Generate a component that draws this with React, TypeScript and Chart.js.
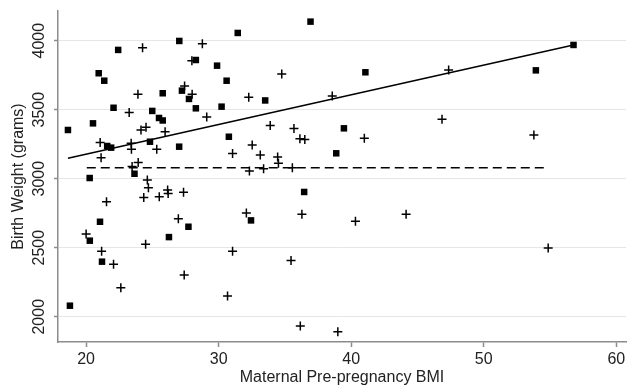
import React, { useEffect, useRef } from "react";
import { Chart, registerables } from "chart.js";

Chart.register(...registerables);

// ---- data ----
const xTickValues = [20, 30, 40, 50, 60];
const yTickValues = [2000, 2500, 3000, 3500, 4000];

const squareBMI = [
  18.63, 22.42, 20.95, 21.37, 20.52, 22.07, 21.59, 21.89, 20.27, 23.65,
  24.99, 25.78, 25.5, 25.78, 24.82, 27.03, 27.23, 27.76, 28.28, 28.28,
  27.02, 29.88, 21.05, 20.28, 21.2, 18.78, 26.25, 27.72, 31.44, 36.93,
  30.6, 41.07, 33.51, 30.22, 30.77, 39.45, 38.87, 36.45, 32.44, 56.77,
  53.93,
];
const squareWeight = [
  3353, 3933, 3764, 3710, 3401, 3514, 3237, 3225, 3005, 3036,
  3491, 3619, 3440, 3422, 3268, 3998, 3638, 3578, 3860, 3510,
  3232, 3819, 2688, 2551, 2399, 2080, 2577, 2652, 4056, 4138,
  3710, 3771, 3567, 3522, 3304, 3365, 3184, 2904, 2698, 3969,
  3785,
];

const plusBMI = [
  24.26, 28.77, 23.91, 27.43, 28.0, 27.98, 23.25, 24.14, 24.52, 25.96,
  29.1, 21.06, 21.13, 23.4, 23.42, 25.33, 23.93, 23.47, 24.62, 24.7,
  21.54, 24.35, 25.52, 26.15, 26.19, 27.35, 20.0, 21.17, 22.07, 22.62,
  24.49, 26.96, 27.4, 34.76, 32.27, 38.57, 33.89, 35.68, 36.13, 36.5,
  40.99, 32.53, 31.05, 33.14, 34.45, 34.51, 32.32, 33.39, 35.56, 32.09,
  36.28, 40.32, 44.14, 31.05, 35.46, 30.67, 36.16, 38.99, 47.35, 46.85,
  53.78, 54.86,
];
const plusWeight = [
  3949, 3978, 3612, 3672, 3612, 3855, 3480, 3353, 3372, 3341,
  3447, 3262, 3152, 3256, 3214, 3214, 3118, 3088, 2991, 2934,
  2833, 2864, 2870, 2918, 2892, 2902, 2599, 2474, 2380, 2210,
  2525, 2710, 2302, 3759, 3590, 3599, 3386, 3364, 3290, 3284,
  3293, 3245, 3183, 3172, 3158, 3112, 3055, 3072, 3080, 2751,
  2742, 2691, 2742, 2474, 2408, 2150, 1933, 1891, 3788, 3430,
  3317, 2498,
];

const fitBMI = [18.63, 56.77];
const fitWeight = [3148, 3969];
const meanBMI = [20.05, 54.9];
const meanWeight = [3080, 3080];

const xTitle = "Maternal Pre-pregnancy BMI";
const yTitle = "Birth Weight (grams)";

// ---- styles ----
const FONT = '"Liberation Sans", Arial, Helvetica, sans-serif';
const TEXT = "#222";
const AXIS = "#8c8c8c";
const GRID = "#e6e6e6";

const toPoints = (xs: number[], ys: number[]) => xs.map((x, i) => ({ x, y: ys[i] }));

const yTickLabelPlugin = {
  id: "yTickLabels",
  afterDraw(chart: any) {
    const s = chart.scales.y;
    const ctx = chart.ctx;
    ctx.save();
    ctx.fillStyle = TEXT;
    ctx.font = `16px ${FONT}`;
    ctx.textAlign = "center";
    ctx.textBaseline = "middle";
    for (const v of yTickValues) {
      const py = s.getPixelForValue(v);
      ctx.save();
      ctx.translate(40, py);
      ctx.rotate(-Math.PI / 2);
      ctx.fillText(String(v), 0, 0);
      ctx.restore();
    }
    ctx.restore();
  },
};

export default function App() {
  const ref = useRef<HTMLCanvasElement | null>(null);

  useEffect(() => {
    if (!ref.current) return;
    const chart = new Chart(ref.current, {
      type: "scatter",
      data: {
        datasets: [
          {
            label: "mean",
            data: toPoints(meanBMI, meanWeight),
            showLine: true,
            borderColor: "#000",
            borderWidth: 1.5,
            borderDash: [9, 5],
            pointRadius: 0,
          },
          {
            label: "fit",
            data: toPoints(fitBMI, fitWeight),
            showLine: true,
            borderColor: "#000",
            borderWidth: 1.5,
            pointRadius: 0,
          },
          {
            label: "squares",
            data: toPoints(squareBMI, squareWeight),
            pointStyle: "rect",
            pointRadius: 4.6,
            backgroundColor: "#000",
            borderColor: "#000",
            borderWidth: 0,
          },
          {
            label: "plus",
            data: toPoints(plusBMI, plusWeight),
            pointStyle: "cross",
            pointRadius: 4.5,
            borderColor: "#000",
            borderWidth: 1.5,
          },
        ],
      },
      options: {
        responsive: false,
        animation: false,
        layout: { padding: { top: 11, left: 0, right: 0, bottom: 0 } },
        plugins: { legend: { display: false }, tooltip: { enabled: false } },
        scales: {
          x: {
            type: "linear",
            min: 17.88,
            max: 60.73,
            afterBuildTicks: (scale: any) => {
              scale.ticks = xTickValues.map((v) => ({ value: v }));
            },
            afterFit: (scale: any) => {
              scale.height = 44;
            },
            grid: {
              drawOnChartArea: false,
              drawTicks: true,
              tickLength: 5,
              tickColor: AXIS,
              tickWidth: 1.5,
            },
            border: { display: true, color: AXIS, width: 1.5 },
            ticks: {
              color: TEXT,
              font: { family: FONT, size: 16 },
              padding: 3,
              maxRotation: 0,
              autoSkip: false,
            },
            title: {
              display: true,
              text: xTitle,
              color: TEXT,
              font: { family: FONT, size: 16, lineHeight: 1 },
              padding: { top: 0, bottom: 0 },
            },
          },
          y: {
            type: "linear",
            min: 1817,
            max: 4215,
            afterBuildTicks: (scale: any) => {
              scale.ticks = yTickValues.map((v) => ({ value: v }));
            },
            afterFit: (scale: any) => {
              scale.width = 58;
            },
            grid: {
              color: GRID,
              lineWidth: 1,
              drawTicks: true,
              tickLength: 4,
              tickColor: AXIS,
              tickWidth: 1.5,
            },
            border: { display: true, color: AXIS, width: 1.5 },
            ticks: { display: false },
            title: {
              display: true,
              text: yTitle,
              color: TEXT,
              font: { family: FONT, size: 16, lineHeight: 1.2 },
              padding: { top: 9, bottom: 0 },
            },
          },
        },
      },
      plugins: [yTickLabelPlugin],
    } as any);
    return () => chart.destroy();
  }, []);

  return (
    <div style={{ position: "fixed", left: 0, top: 0, width: 632, height: 386, background: "#fff" }}>
      <canvas ref={ref} width={632} height={386} style={{ display: "block" }} />
    </div>
  );
}
